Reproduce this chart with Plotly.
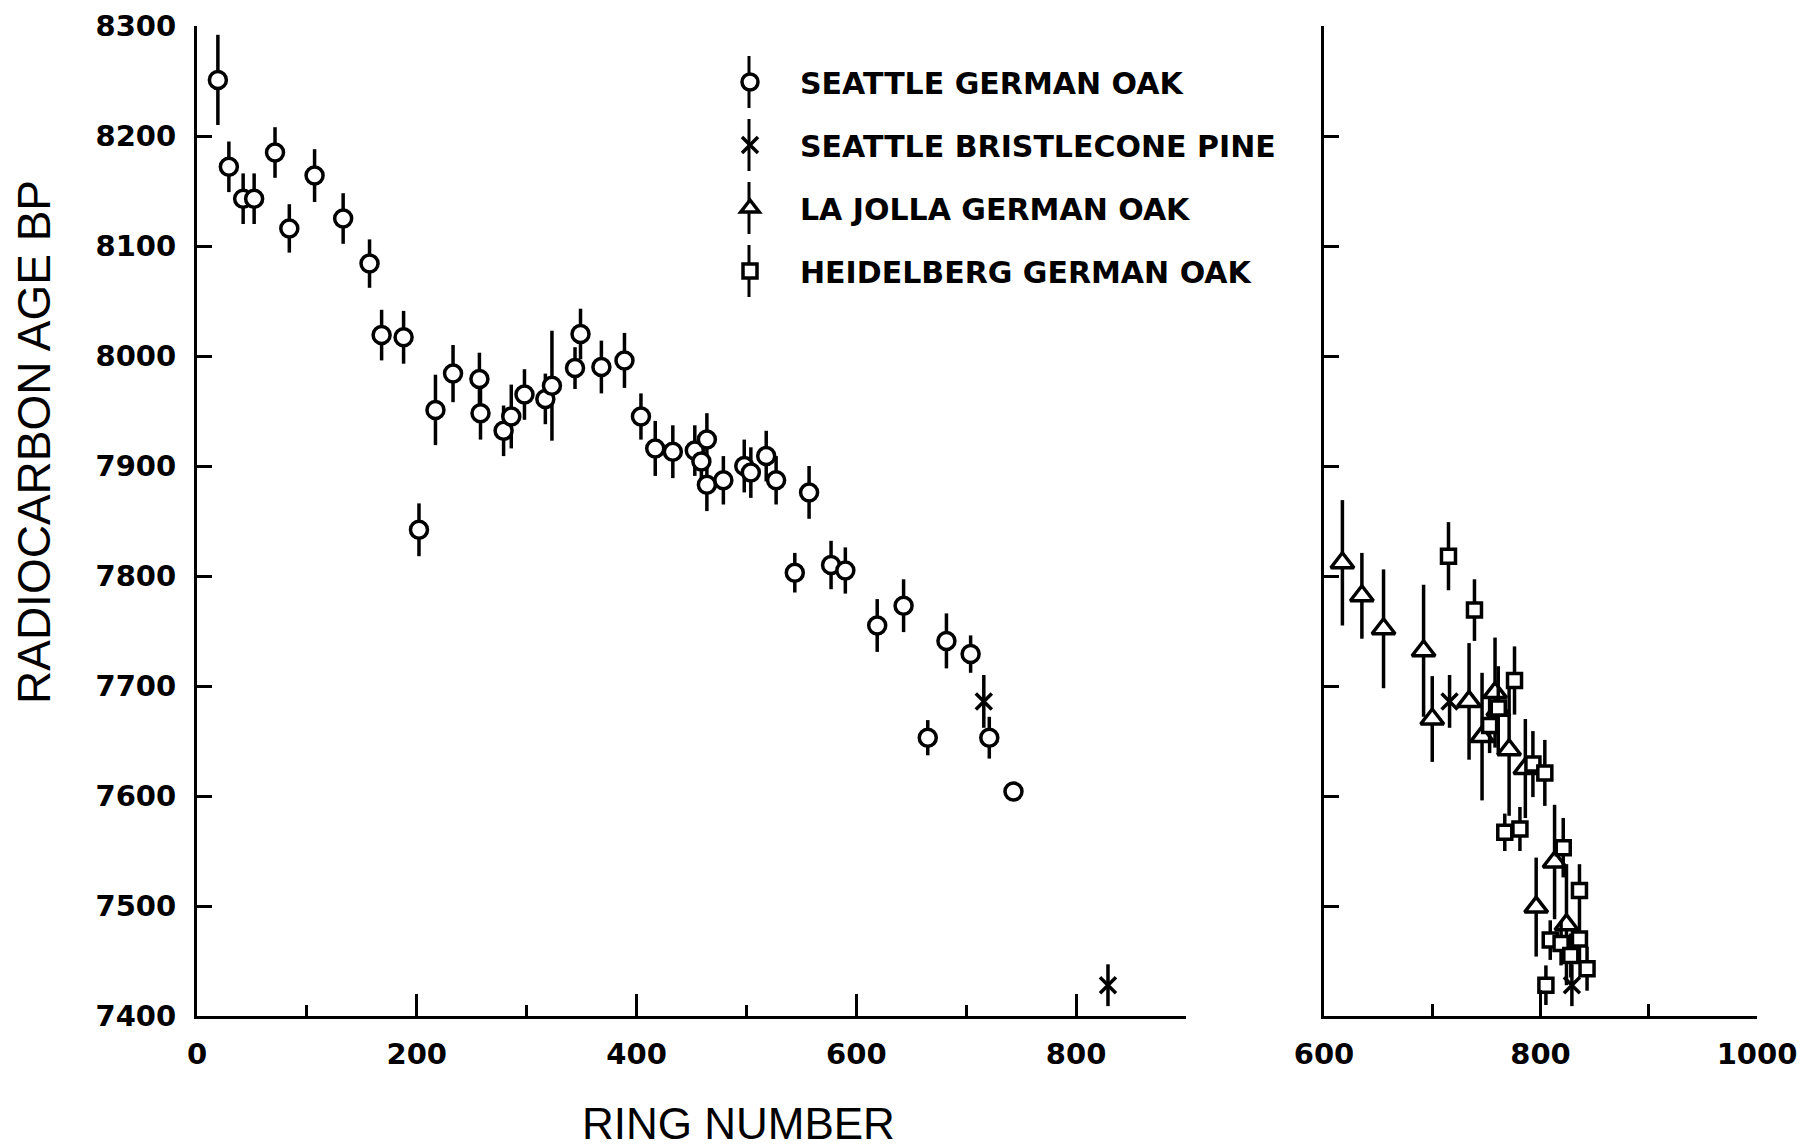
import plotly.graph_objects as go

# ---------------- data ----------------
# Seattle German oak (left panel)
sgo_ring = [19, 29, 42, 52, 71, 84, 107, 133, 157, 168,
            188, 202, 217, 233, 257, 258, 279, 286, 298, 317,
            323, 344, 349, 368, 389, 404, 417, 433, 453, 459,
            464, 464, 479, 498, 504, 518, 527, 544, 557, 577,
            590, 619, 643, 665, 682, 704, 721, 743]
sgo_age = [8251, 8172, 8143, 8143, 8185, 8116, 8164, 8125, 8084, 8019,
           8017, 7842, 7951, 7984, 7979, 7948, 7932, 7945, 7965, 7961,
           7973, 7989, 8020, 7990, 7996, 7945, 7916, 7913, 7914, 7904,
           7924, 7883, 7887, 7900, 7894, 7909, 7887, 7803, 7876, 7810,
           7805, 7755, 7773, 7653, 7741, 7729, 7653, 7604]
sgo_err = [41, 23, 23, 23, 23, 22, 24, 23, 22, 23,
           24, 24, 32, 26, 24, 24, 23, 29, 23, 23,
           50, 19, 23, 24, 25, 21, 25, 24, 23, 22,
           24, 24, 22, 24, 23, 23, 22, 18, 24, 22,
           21, 24, 24, 16, 25, 17, 19, 8]

# Seattle bristlecone pine (both panels)
sbp_ring = [716, 829]
sbp_age = [7686, 7428]
sbp_err = [24, 19]

# La Jolla German oak (right panel)
ljo_ring = [617, 635, 655, 692, 700, 734, 746, 758, 761, 771, 786, 796, 813, 824]
ljo_age = [7812, 7782, 7752, 7732, 7670, 7686, 7654, 7694, 7678, 7642, 7625, 7499, 7540, 7483]
ljo_err = [57, 39, 54, 60, 39, 53, 58, 50, 40, 60, 45, 45, 52, 55]

# Heidelberg German oak (right panel)
hgo_ring = [715, 739, 776, 761, 753, 767, 781, 793, 804, 821, 836, 809, 819, 836, 843, 805, 828]
hgo_age = [7818, 7769, 7705, 7680, 7664, 7567, 7570, 7629, 7621, 7553, 7514, 7469, 7466, 7470, 7443, 7428, 7455]
hgo_err = [31, 28, 31, 25, 25, 17, 20, 30, 30, 27, 24, 18, 20, 20, 20, 18, 20]

series_names = ["SEATTLE GERMAN OAK", "SEATTLE BRISTLECONE PINE",
                "LA JOLLA GERMAN OAK", "HEIDELBERG GERMAN OAK"]

left_xticks = [0, 200, 400, 600, 800]
right_xticks = [600, 800, 1000]
y_ticks = [7400, 7500, 7600, 7700, 7800, 7900, 8000, 8100, 8200, 8300]

# ---------------- styling ----------------
W, H = 1818, 1145
OFF = 8  # the page places the figure 8px in from the top-left corner


def px(x):
    return (x - OFF) / W


def py(y):
    return 1 - (y - OFF) / H


TICK_FONT = dict(family="DejaVu Sans", size=29, color="black", weight="bold")
TITLE_FONT = dict(family="Liberation Sans, Arial, sans-serif", size=44, color="black")
YTITLE_FONT = dict(family="Liberation Sans, Arial, sans-serif", size=46, color="black")
LEG_FONT = dict(family="DejaVu Sans", size=30, color="black", weight="bold")


def err(arr):
    return dict(type="data", array=arr, visible=True, color="black", thickness=3.5, width=0)


def mk(symbol, size, fill="white"):
    return dict(symbol=symbol, size=size, color=fill, line=dict(color="black", width=3.5))


XMARK = dict(symbol="x-thin-open", size=16, color="black", line=dict(color="black", width=3.5))

fig = go.Figure()

fig.add_trace(go.Scatter(x=sgo_ring, y=sgo_age, mode="markers", name=series_names[0],
                         legendgroup="g1", error_y=err(sgo_err),
                         marker=mk("circle", 17), xaxis="x", yaxis="y"))
fig.add_trace(go.Scatter(x=sbp_ring, y=sbp_age, mode="markers", name=series_names[1],
                         legendgroup="g2", error_y=err(sbp_err),
                         marker=XMARK, xaxis="x", yaxis="y"))
fig.add_trace(go.Scatter(x=ljo_ring, y=ljo_age, mode="markers", name=series_names[2],
                         legendgroup="g3", error_y=err(ljo_err),
                         marker=mk("triangle-up", 20), xaxis="x2", yaxis="y2"))
fig.add_trace(go.Scatter(x=hgo_ring, y=hgo_age, mode="markers", name=series_names[3],
                         legendgroup="g4", error_y=err(hgo_err),
                         marker=mk("square", 14), xaxis="x2", yaxis="y2"))
fig.add_trace(go.Scatter(x=sbp_ring, y=sbp_age, mode="markers", name=series_names[1],
                         legendgroup="g2", showlegend=False, error_y=err(sbp_err),
                         marker=XMARK, xaxis="x2", yaxis="y2"))

ydom = [py(1016), py(26)]
axis_common = dict(showline=True, linecolor="black", linewidth=3, showgrid=False,
                   zeroline=False, ticks="inside", tickcolor="black", tickwidth=3,
                   automargin=False, layer="above traces", ticklabeloverflow="allow")

fig.update_layout(
    template="none",
    width=W, height=H,
    margin=dict(l=0, r=0, t=0, b=0, pad=0, autoexpand=False),
    paper_bgcolor="white", plot_bgcolor="white",
    xaxis=dict(domain=[px(197), px(1186)], range=[0, 900], anchor="y",
               tickvals=left_xticks, ticklen=22,
               minor=dict(dtick=100, tick0=0, ticks="inside", ticklen=11,
                          tickwidth=3, tickcolor="black", showgrid=False),
               tickfont=TICK_FONT, ticklabelstandoff=10, **axis_common),
    yaxis=dict(domain=ydom, range=[7400, 8300], anchor="x",
               tickvals=y_ticks, ticklen=15,
               tickfont=TICK_FONT, ticklabelstandoff=12, **axis_common),
    xaxis2=dict(domain=[px(1324), px(1757)], range=[600, 1000], anchor="y2",
                tickvals=right_xticks, ticklen=26,
                minor=dict(dtick=100, tick0=0, ticks="inside", ticklen=12,
                           tickwidth=3, tickcolor="black", showgrid=False),
                tickfont=TICK_FONT, ticklabelstandoff=10, **axis_common),
    yaxis2=dict(domain=ydom, range=[7400, 8300], anchor="x2",
                tickvals=y_ticks, ticklen=15, showticklabels=False, **axis_common),
    showlegend=True,
    legend=dict(x=px(700), y=py(56), xanchor="left", yanchor="top",
                font=LEG_FONT, bgcolor="rgba(0,0,0,0)", borderwidth=0,
                itemwidth=90, tracegroupgap=21, traceorder="grouped",
                itemclick=False, itemdoubleclick=False),
    annotations=[
        dict(text="RING NUMBER", x=px(738), y=py(1123), xref="paper", yref="paper",
             xanchor="center", yanchor="middle", showarrow=False, font=TITLE_FONT),
        dict(text="RADIOCARBON AGE BP", x=px(34), y=py(442), xref="paper", yref="paper",
             xanchor="center", yanchor="middle", showarrow=False, textangle=-90,
             font=YTITLE_FONT),
    ],
)

# vertical error strokes behind the legend symbols
row_centers = [82, 145, 208, 271]
shapes = []
for yc in row_centers:
    shapes.append(dict(type="line", xref="paper", yref="paper",
                       x0=px(749), x1=px(749), y0=py(yc - 26), y1=py(yc + 26),
                       line=dict(color="black", width=3), layer="above"))
fig.update_layout(shapes=shapes)

fig.write_html("out.html")
